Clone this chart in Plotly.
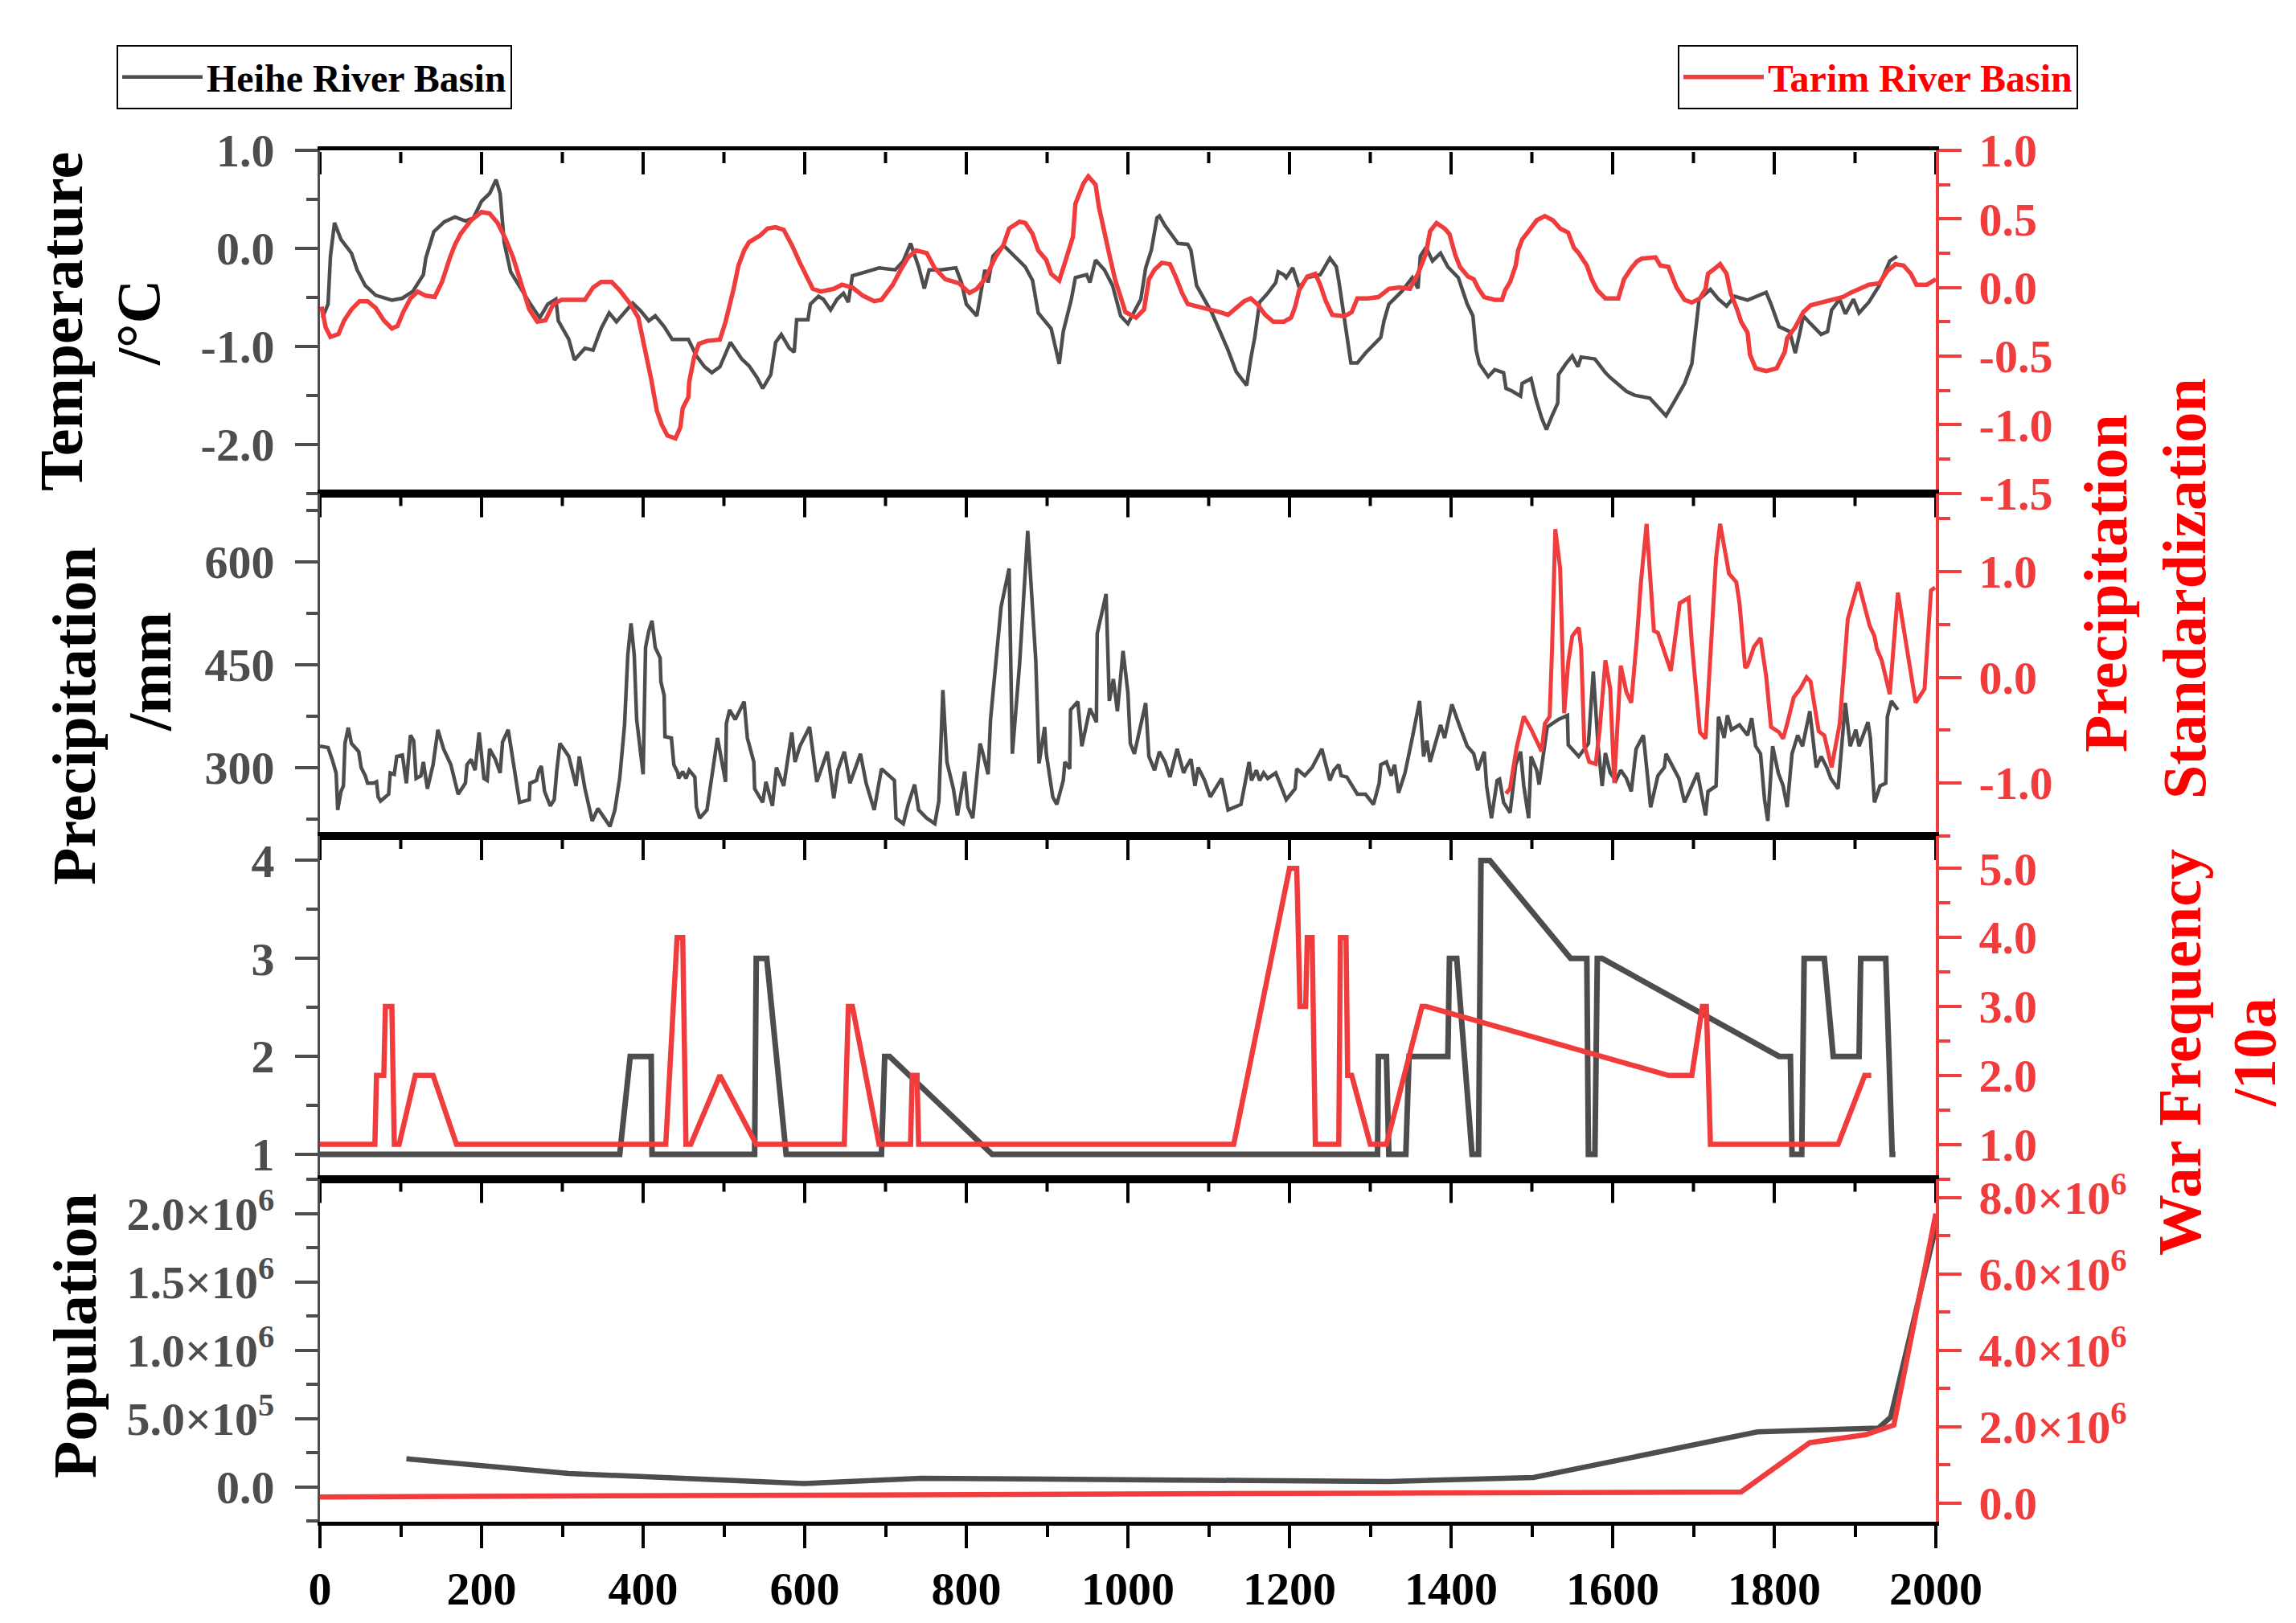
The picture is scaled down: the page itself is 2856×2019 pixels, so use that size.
import plotly.graph_objects as go
from plotly.subplots import make_subplots

GREY = '#4D4D4D'
RED = '#F03C3C'
TITLE_RED = '#FF0000'
FONT = 'Liberation Serif'

# ---- temperature (Heihe, degC, left axis) ----
heihe_temp_year = [
    3, 10, 13, 18, 26, 33, 39, 46, 56, 69,
    89, 102, 115, 128, 131, 141, 154, 167, 180, 190,
    200, 210, 218, 223, 228, 236, 246, 259, 272, 282,
    292, 295, 308, 315, 328, 338, 348, 358, 367, 377,
    387, 397, 407, 415, 426, 436, 456, 466, 476, 485,
    495, 508, 522, 531, 541, 548, 558, 564, 571, 581,
    587, 590, 604, 607, 617, 623, 632, 640, 648, 654,
    659, 676, 692, 712, 722, 731, 741, 748, 754, 768,
    787, 794, 800, 813, 823, 827, 833, 846, 856, 873,
    882, 889, 905, 915, 920, 930, 935, 949, 953, 960,
    971, 981, 991, 1000, 1007, 1016, 1022, 1029, 1036, 1039,
    1046, 1056, 1062, 1074, 1078, 1085, 1095, 1104, 1114, 1124,
    1134, 1147, 1152, 1157, 1163, 1173, 1183, 1186, 1193, 1196,
    1204, 1212, 1222, 1238, 1250, 1258, 1261, 1264, 1271, 1276,
    1284, 1294, 1307, 1313, 1317, 1323, 1339, 1352, 1359, 1362,
    1369, 1377, 1387, 1396, 1409, 1420, 1427, 1431, 1435, 1446,
    1454, 1465, 1468, 1476, 1486, 1488, 1499, 1505, 1512, 1518,
    1525, 1532, 1533, 1542, 1550, 1557, 1561, 1578, 1591, 1597,
    1617, 1627, 1646, 1656, 1666, 1676, 1689, 1698, 1702, 1707,
    1721, 1731, 1741, 1751, 1767, 1780, 1790, 1796, 1806, 1819,
    1826, 1832, 1836, 1845, 1858, 1866, 1871, 1881, 1888, 1898,
    1905, 1917, 1930, 1943, 1952,
]
heihe_temp = [
    -0.71, -0.57, -0.08, 0.26, 0.09, 0.01, -0.05, -0.22, -0.38, -0.48,
    -0.53, -0.51, -0.44, -0.27, -0.10, 0.17, 0.27, 0.32, 0.28, 0.31,
    0.48, 0.56, 0.70, 0.56, 0.06, -0.24, -0.38, -0.55, -0.71, -0.57,
    -0.52, -0.74, -0.93, -1.14, -1.02, -1.04, -0.82, -0.66, -0.75, -0.66,
    -0.56, -0.64, -0.74, -0.69, -0.80, -0.93, -0.93, -1.10, -1.21, -1.27,
    -1.21, -0.96, -1.13, -1.20, -1.32, -1.43, -1.29, -0.96, -0.88, -1.02,
    -1.06, -0.73, -0.73, -0.57, -0.49, -0.52, -0.63, -0.52, -0.46, -0.55,
    -0.28, -0.24, -0.20, -0.22, -0.13, 0.05, -0.19, -0.41, -0.22, -0.22,
    -0.20, -0.35, -0.57, -0.69, -0.22, -0.35, -0.08, 0.03, -0.05, -0.19,
    -0.33, -0.66, -0.82, -1.18, -0.85, -0.52, -0.30, -0.27, -0.35, -0.12,
    -0.22, -0.38, -0.69, -0.77, -0.66, -0.52, -0.20, -0.02, 0.31, 0.33,
    0.23, 0.12, 0.05, 0.04, -0.02, -0.38, -0.52, -0.66, -0.85, -1.04,
    -1.26, -1.40, -1.13, -0.91, -0.55, -0.46, -0.35, -0.24, -0.27, -0.30,
    -0.20, -0.40, -0.30, -0.27, -0.10, -0.19, -0.33, -0.49, -0.85, -1.17,
    -1.17, -1.07, -0.96, -0.91, -0.74, -0.57, -0.44, -0.30, -0.41, -0.08,
    0.01, -0.13, -0.05, -0.19, -0.30, -0.57, -0.69, -1.04, -1.18, -1.31,
    -1.24, -1.27, -1.43, -1.46, -1.51, -1.38, -1.33, -1.54, -1.73, -1.85,
    -1.71, -1.58, -1.29, -1.18, -1.10, -1.21, -1.11, -1.13, -1.27, -1.32,
    -1.46, -1.50, -1.53, -1.62, -1.71, -1.57, -1.38, -1.18, -0.91, -0.52,
    -0.42, -0.52, -0.59, -0.49, -0.53, -0.49, -0.45, -0.57, -0.80, -0.85,
    -1.07, -0.85, -0.69, -0.77, -0.88, -0.85, -0.63, -0.52, -0.67, -0.52,
    -0.66, -0.55, -0.38, -0.13, -0.08,
]

# ---- temperature (Tarim, standardized, right axis) ----
tarim_temp_year = [
    2, 7, 13, 23, 30, 39, 49, 59, 69, 79,
    89, 96, 103, 112, 121, 131, 142, 151, 161, 167,
    174, 187, 200, 210, 220, 230, 239, 246, 253, 259,
    269, 279, 289, 299, 328, 338, 348, 361, 371, 384,
    394, 403, 410, 417, 423, 430, 440, 446, 449, 456,
    457, 463, 469, 479, 495, 502, 508, 512, 518, 525,
    531, 545, 554, 564, 574, 584, 594, 604, 610, 620,
    636, 646, 659, 672, 686, 695, 709, 718, 728, 738,
    751, 761, 774, 791, 804, 813, 823, 836, 846, 853,
    866, 873, 882, 889, 899, 905, 915, 922, 932, 935,
    945, 951, 960, 964, 971, 977, 984, 991, 997, 1010,
    1020, 1026, 1033, 1042, 1052, 1059, 1067, 1074, 1088, 1101,
    1114, 1124, 1134, 1144, 1152, 1160, 1170, 1180, 1193, 1202,
    1207, 1212, 1222, 1232, 1238, 1245, 1253, 1268, 1277, 1284,
    1297, 1310, 1323, 1336, 1349, 1359, 1369, 1374, 1382, 1392,
    1398, 1405, 1411, 1421, 1428, 1434, 1441, 1454, 1463, 1467,
    1473, 1480, 1483, 1488, 1496, 1506, 1516, 1526, 1535, 1545,
    1552, 1558, 1568, 1574, 1581, 1591, 1607, 1614, 1623, 1630,
    1636, 1653, 1659, 1669, 1679, 1689, 1698, 1708, 1715, 1718,
    1727, 1733, 1741, 1746, 1754, 1759, 1767, 1770, 1777, 1790,
    1803, 1813, 1816, 1826, 1836, 1845, 1858, 1871, 1885, 1894,
    1907, 1917, 1930, 1940, 1950, 1960, 1969, 1976, 1989, 2000,
]
tarim_temp = [
    -0.14, -0.29, -0.36, -0.34, -0.24, -0.16, -0.10, -0.10, -0.15, -0.24,
    -0.30, -0.28, -0.18, -0.08, -0.03, -0.06, -0.07, 0.04, 0.22, 0.31,
    0.39, 0.49, 0.55, 0.54, 0.47, 0.35, 0.22, 0.08, -0.04, -0.16,
    -0.25, -0.24, -0.12, -0.09, -0.09, 0.00, 0.04, 0.04, -0.02, -0.12,
    -0.22, -0.47, -0.67, -0.90, -1.00, -1.08, -1.10, -1.02, -0.88, -0.80,
    -0.69, -0.51, -0.41, -0.39, -0.38, -0.25, -0.12, -0.01, 0.16, 0.27,
    0.33, 0.38, 0.43, 0.44, 0.42, 0.31, 0.18, 0.06, -0.01, -0.03,
    -0.01, 0.02, 0.00, -0.06, -0.10, -0.09, 0.02, 0.12, 0.22, 0.27,
    0.25, 0.14, 0.06, 0.03, -0.04, -0.01, 0.06, 0.22, 0.31, 0.43,
    0.48, 0.47, 0.39, 0.27, 0.20, 0.10, 0.05, 0.18, 0.37, 0.61,
    0.76, 0.81, 0.75, 0.59, 0.39, 0.24, 0.06, -0.08, -0.18, -0.22,
    -0.16, 0.06, 0.13, 0.18, 0.17, 0.08, -0.04, -0.12, -0.14, -0.16,
    -0.18, -0.20, -0.15, -0.10, -0.08, -0.12, -0.20, -0.25, -0.25, -0.22,
    -0.14, -0.02, 0.08, 0.10, 0.02, -0.10, -0.20, -0.21, -0.18, -0.08,
    -0.08, -0.07, -0.01, 0.00, -0.01, 0.10, 0.25, 0.41, 0.47, 0.43,
    0.39, 0.24, 0.15, 0.08, 0.06, -0.01, -0.07, -0.09, -0.09, -0.02,
    0.04, 0.16, 0.27, 0.35, 0.41, 0.49, 0.52, 0.49, 0.43, 0.40,
    0.29, 0.25, 0.16, 0.06, -0.02, -0.08, -0.08, 0.06, 0.14, 0.19,
    0.21, 0.22, 0.16, 0.15, 0.00, -0.09, -0.11, -0.08, -0.01, 0.10,
    0.14, 0.17, 0.10, -0.04, -0.16, -0.25, -0.33, -0.49, -0.59, -0.61,
    -0.59, -0.47, -0.37, -0.29, -0.18, -0.13, -0.11, -0.09, -0.07, -0.04,
    -0.01, 0.02, 0.03, 0.12, 0.17, 0.16, 0.10, 0.02, 0.02, 0.06,
]

# ---- precipitation (Heihe, mm, left axis) ----
heihe_prec_year = [
    0, 10, 15, 20, 22, 26, 29, 31, 35, 39,
    48, 51, 56, 59, 66, 70, 72, 75, 85, 87,
    92, 95, 102, 107, 112, 116, 119, 125, 128, 133,
    140, 146, 153, 162, 171, 180, 182, 187, 192, 197,
    203, 207, 210, 217, 223, 226, 233, 239, 247, 259,
    260, 268, 271, 274, 278, 285, 290, 293, 297, 308,
    317, 321, 328, 337, 344, 351, 359, 365, 371, 377,
    381, 385, 389, 392, 400, 403, 407, 411, 415, 421,
    422, 426, 427, 435, 438, 443, 444, 449, 453, 457,
    464, 466, 470, 479, 485, 492, 502, 503, 507, 514,
    525, 529, 537, 538, 548, 552, 560, 565, 574, 584,
    588, 594, 606, 615, 628, 636, 641, 649, 656, 663,
    669, 676, 686, 695, 705, 711, 713, 722, 728, 736,
    741, 751, 761, 766, 771, 776, 784, 789, 798, 802,
    808, 817, 820, 827, 830, 835, 843, 853, 857, 866,
    876, 886, 890, 897, 899, 907, 912, 920, 922, 928,
    929, 938, 943, 953, 961, 962, 973, 977, 982, 987,
    994, 1000, 1003, 1008, 1015, 1022, 1026, 1033, 1039, 1046,
    1052, 1061, 1069, 1072, 1078, 1083, 1087, 1095, 1102, 1116,
    1124, 1140, 1150, 1153, 1159, 1163, 1168, 1173, 1183, 1196,
    1207, 1209, 1219, 1228, 1240, 1250, 1255, 1261, 1264, 1271,
    1284, 1294, 1304, 1311, 1313, 1320, 1326, 1330, 1335, 1343,
    1352, 1361, 1366, 1370, 1374, 1382, 1387, 1392, 1401, 1411,
    1420, 1428, 1433, 1441, 1444, 1450, 1457, 1460, 1465, 1473,
    1480, 1486, 1490, 1496, 1499, 1506, 1509, 1519, 1525, 1533,
    1544, 1545, 1558, 1570, 1576, 1582, 1587, 1591, 1597, 1604,
    1610, 1617, 1623, 1629, 1638, 1647, 1656, 1664, 1666, 1682,
    1689, 1705, 1715, 1718, 1728, 1731, 1738, 1742, 1747, 1757,
    1767, 1772, 1777, 1783, 1788, 1792, 1798, 1805, 1811, 1816,
    1822, 1829, 1835, 1844, 1852, 1858, 1865, 1870, 1879, 1888,
    1894, 1901, 1905, 1916, 1919, 1924, 1931, 1938, 1940, 1945,
    1953,
]
heihe_prec = [
    331, 329, 312, 292, 238, 265, 273, 335, 358, 335,
    323, 300, 288, 277, 277, 279, 257, 251, 261, 292,
    290, 316, 318, 277, 347, 339, 284, 288, 308, 269,
    304, 355, 327, 304, 261, 277, 304, 312, 296, 351,
    284, 281, 327, 312, 292, 337, 355, 312, 249, 253,
    277, 281, 296, 302, 265, 244, 253, 294, 335, 316,
    273, 316, 269, 222, 240, 228, 214, 238, 284, 362,
    464, 510, 464, 370, 290, 475, 499, 514, 475, 460,
    425, 405, 345, 343, 304, 292, 284, 294, 284, 296,
    286, 242, 226, 238, 288, 343, 279, 364, 384, 370,
    396, 343, 308, 269, 249, 279, 244, 300, 273, 351,
    308, 331, 359, 279, 323, 255, 296, 323, 277, 300,
    320, 277, 238, 298, 288, 281, 226, 218, 246, 275,
    238, 226, 218, 251, 413, 308, 269, 230, 294, 242,
    226, 335, 323, 290, 370, 433, 534, 590, 320, 452,
    645, 456, 306, 359, 320, 257, 246, 281, 308, 298,
    384, 396, 331, 386, 366, 495, 553, 397, 429, 382,
    470, 409, 335, 320, 355, 394, 316, 296, 323, 308,
    286, 327, 292, 300, 312, 273, 300, 281, 257, 284,
    238, 246, 308, 281, 296, 281, 292, 284, 292, 253,
    269, 298, 288, 300, 327, 281, 296, 304, 288, 286,
    261, 261, 246, 277, 304, 308, 288, 304, 263, 292,
    343, 397, 316, 339, 308, 343, 362, 343, 392, 359,
    331, 320, 296, 323, 273, 226, 281, 283, 249, 234,
    304, 323, 273, 226, 316, 296, 275, 359, 364, 370,
    376, 333, 316, 335, 440, 331, 273, 321, 292, 281,
    296, 284, 265, 327, 347, 242, 288, 300, 320, 284,
    249, 292, 230, 265, 273, 374, 343, 376, 355, 362,
    347, 372, 331, 320, 253, 222, 331, 292, 273, 242,
    320, 347, 331, 382, 300, 316, 300, 284, 269, 394,
    331, 355, 331, 366, 343, 249, 273, 277, 374, 397,
    384,
]

# ---- precipitation (Tarim, standardized, right axis) ----
tarim_prec_year = [
    1468, 1473, 1481, 1490, 1499, 1512, 1516, 1522, 1525, 1529,
    1535, 1540, 1545, 1550, 1558, 1561, 1565, 1571, 1579, 1584,
    1591, 1597, 1602, 1610, 1617, 1623, 1630, 1635, 1642, 1651,
    1656, 1672, 1683, 1694, 1698, 1708, 1715, 1721, 1728, 1733,
    1741, 1744, 1753, 1757, 1764, 1767, 1775, 1783, 1790, 1796,
    1806, 1811, 1816, 1824, 1832, 1840, 1845, 1855, 1862, 1871,
    1881, 1891, 1904, 1914, 1918, 1924, 1927, 1933, 1943, 1953,
    1963, 1975, 1986, 1994, 1999,
]
tarim_prec = [
    -1.10, -1.05, -0.67, -0.37, -0.49, -0.70, -0.44, -0.37, 0.27, 1.40,
    1.03, -0.34, 0.14, 0.39, 0.47, 0.27, -0.65, -0.80, -0.82, -0.49,
    0.16, -0.11, -1.00, 0.11, -0.14, -0.24, 0.37, 0.90, 1.45, 0.44,
    0.42, 0.06, 0.70, 0.75, 0.32, -0.52, -0.58, 0.27, 1.13, 1.45,
    1.13, 0.98, 0.90, 0.70, 0.09, 0.11, 0.29, 0.37, 0.01, -0.47,
    -0.52, -0.58, -0.44, -0.19, -0.11, 0.00, -0.04, -0.51, -0.55, -0.85,
    -0.44, 0.55, 0.90, 0.62, 0.49, 0.39, 0.27, 0.16, -0.16, 0.80,
    0.32, -0.24, -0.11, 0.82, 0.85,
]

# ---- war frequency per 10 years ----
heihe_war_year = [
    0, 371, 384, 410, 411, 538, 540, 553, 577, 695,
    699, 705, 832, 1309, 1310, 1320, 1323, 1344, 1348, 1396,
    1398, 1407, 1426, 1434, 1437, 1448, 1548, 1568, 1570, 1578,
    1581, 1587, 1806, 1820, 1822, 1834, 1837, 1862, 1873, 1905,
    1907, 1938, 1942, 1946, 1950,
]
heihe_war = [
    1, 1, 2, 2, 1, 1, 3, 3, 1, 1,
    2, 2, 1, 1, 2, 2, 1, 1, 2, 2,
    3, 3, 1, 1, 4, 4, 3, 3, 1, 1,
    3, 3, 2, 2, 1, 1, 3, 3, 2, 2,
    3, 3, 2, 1, 1,
]
tarim_war_year = [
    0, 68, 70, 79, 81, 89, 92, 98, 118, 140,
    169, 428, 442, 449, 453, 459, 495, 540, 649, 654,
    659, 692, 731, 733, 739, 741, 1131, 1200, 1209, 1213,
    1220, 1222, 1228, 1232, 1261, 1263, 1270, 1272, 1277, 1300,
    1320, 1364, 1369, 1669, 1698, 1711, 1716, 1721, 1879, 1912,
    1920,
]
tarim_war = [
    1, 1, 2, 2, 3, 3, 1, 1, 2, 2,
    1, 1, 4, 4, 1, 1, 2, 1, 1, 3,
    3, 1, 1, 2, 2, 1, 1, 5, 5, 3,
    3, 4, 4, 1, 1, 4, 4, 2, 2, 1,
    1, 3, 3, 2, 2, 3, 3, 1, 1, 2,
    2,
]

# ---- population ----
heihe_pop_year = [107, 308, 599, 744, 1323, 1502, 1779, 1929, 1944, 2000]
heihe_pop = [206000, 98000, 24000, 63000, 39000, 69000, 402000, 431000, 510000, 1900000]
tarim_pop_year = [0, 599, 1323, 1759, 1844, 1913, 1948, 2000]
tarim_pop = [160000, 220000, 260000, 290000, 1580000, 1790000, 2040000, 7580000]

# ---- tick labels ----
temp_ticks = [-2, -1, 0, 1]
temp_text = ['-2.0', '-1.0', '0.0', '1.0']
temp_std_ticks = [-1.5, -1.0, -0.5, 0.0, 0.5, 1.0]
temp_std_text = ['-1.5', '-1.0', '-0.5', '0.0', '0.5', '1.0']
prec_std_ticks = [-1, 0, 1]
prec_std_text = ['-1.0', '0.0', '1.0']
pop_left_ticks = [0, 500000, 1000000, 1500000, 2000000]
pop_left_text = ['0.0', '5.0×10<sup>5</sup>', '1.0×10<sup>6</sup>', '1.5×10<sup>6</sup>', '2.0×10<sup>6</sup>']
pop_right_ticks = [0, 2000000, 4000000, 6000000, 8000000]
pop_right_text = ['0.0', '2.0×10<sup>6</sup>', '4.0×10<sup>6</sup>', '6.0×10<sup>6</sup>', '8.0×10<sup>6</sup>']

# ---- figure ----
W, H = 2856, 2019
L, R, T, B = 390, 2400, 179, 1885   # plot area in px


def px_x(p):
    return (p - L) / (R - L)


def px_y(p):
    return (B - p) / (B - T)


fig = make_subplots(rows=4, cols=1, shared_xaxes=True, vertical_spacing=0,
                    specs=[[{"secondary_y": True}]] * 4)

fig.add_trace(go.Scatter(x=heihe_temp_year, y=heihe_temp, mode='lines', name='<b>Heihe River Basin</b>',
                         line=dict(color=GREY, width=4.5), legend='legend'), row=1, col=1, secondary_y=False)
fig.add_trace(go.Scatter(x=tarim_temp_year, y=tarim_temp, mode='lines', name='<b>Tarim River Basin</b>',
                         line=dict(color=RED, width=5.5), legend='legend2'), row=1, col=1, secondary_y=True)

fig.add_trace(go.Scatter(x=heihe_prec_year, y=heihe_prec, mode='lines', showlegend=False,
                         line=dict(color=GREY, width=4.5)), row=2, col=1, secondary_y=False)
fig.add_trace(go.Scatter(x=tarim_prec_year, y=tarim_prec, mode='lines', showlegend=False,
                         line=dict(color=RED, width=5)), row=2, col=1, secondary_y=True)

fig.add_trace(go.Scatter(x=heihe_war_year, y=heihe_war, mode='lines', showlegend=False,
                         line=dict(color=GREY, width=7)), row=3, col=1, secondary_y=False)
fig.add_trace(go.Scatter(x=tarim_war_year, y=tarim_war, mode='lines', showlegend=False,
                         line=dict(color=RED, width=6.5)), row=3, col=1, secondary_y=True)

fig.add_trace(go.Scatter(x=heihe_pop_year, y=heihe_pop, mode='lines', showlegend=False,
                         line=dict(color=GREY, width=6.5)), row=4, col=1, secondary_y=False)
fig.add_trace(go.Scatter(x=tarim_pop_year, y=tarim_pop, mode='lines', showlegend=False,
                         line=dict(color=RED, width=6.5)), row=4, col=1, secondary_y=True)

tickfont_black = dict(family=FONT, size=58, color='black', weight='bold')
tickfont_grey = dict(family=FONT, size=58, color=GREY, weight='bold')
tickfont_red = dict(family=FONT, size=58, color=RED, weight='bold')

# x axes: frame lines for every panel, year ticks + labels along the bottom
fig.update_xaxes(domain=[0, 1], range=[0, 2000], tick0=0, dtick=200, showline=True, linewidth=5,
                 linecolor='black', mirror=True, showgrid=False, zeroline=False, automargin=False,
                 tickfont=tickfont_black, ticklabelstandoff=0)
fig.update_xaxes(row=4, col=1, ticks='outside', ticklen=28, tickwidth=4, tickcolor='black',
                 minor=dict(dtick=100, tick0=0, ticks='outside', ticklen=14, tickwidth=4, tickcolor='black'))

# the upper frame edge of every panel carries inward-pointing year ticks
panel_tops = [1.0, 0.75, 0.5, 0.25]
for top in panel_tops:
    for yr in range(0, 2001, 100):
        tick_len = 28 if yr % 200 == 0 else 14
        fig.add_shape(type='line', xref='x', yref='paper', x0=yr, x1=yr, ysizemode='pixel', yanchor=top,
                      y0=-2, y1=-2 - tick_len, line=dict(color='black', width=4), layer='above')

left_common = dict(showline=True, linecolor=GREY, linewidth=3, ticks='outside', ticklen=28, tickwidth=4,
                   tickcolor=GREY, showgrid=False, zeroline=False, tickfont=tickfont_grey,
                   ticklabelstandoff=14, automargin=False)
right_common = dict(showline=True, linecolor=RED, linewidth=4, ticks='outside', ticklen=28, tickwidth=4,
                    tickcolor=RED, showgrid=False, zeroline=False, tickfont=tickfont_red,
                    ticklabelstandoff=10, automargin=False)

# panel 1: temperature
fig.update_yaxes(row=1, col=1, secondary_y=False, range=[-2.5, 1.0], tickmode='array',
                 tickvals=temp_ticks, ticktext=temp_text,
                 minor=dict(dtick=0.5, tick0=0, ticks='outside', ticklen=14, tickwidth=4, tickcolor=GREY),
                 **left_common)
fig.update_yaxes(row=1, col=1, secondary_y=True, range=[-1.5, 1.0], tickmode='array',
                 tickvals=temp_std_ticks, ticktext=temp_std_text,
                 minor=dict(dtick=0.25, tick0=0, ticks='outside', ticklen=14, tickwidth=4, tickcolor=RED),
                 **right_common)
# panel 2: precipitation
fig.update_yaxes(row=2, col=1, secondary_y=False, range=[200, 700], tick0=0, dtick=150,
                 minor=dict(dtick=75, tick0=0, ticks='outside', ticklen=14, tickwidth=4, tickcolor=GREY),
                 **left_common)
fig.update_yaxes(row=2, col=1, secondary_y=True, range=[-1.5, 1.74], tickmode='array',
                 tickvals=prec_std_ticks, ticktext=prec_std_text,
                 minor=dict(dtick=0.5, tick0=0, ticks='outside', ticklen=14, tickwidth=4, tickcolor=RED),
                 **right_common)
# panel 3: war frequency
fig.update_yaxes(row=3, col=1, secondary_y=False, range=[0.75, 4.25], tick0=0, dtick=1, tickformat='d',
                 minor=dict(dtick=0.5, tick0=0, ticks='outside', ticklen=14, tickwidth=4, tickcolor=GREY),
                 **left_common)
fig.update_yaxes(row=3, col=1, secondary_y=True, range=[0.5, 5.47], tick0=0, dtick=1, tickformat='.1f',
                 minor=dict(dtick=0.5, tick0=0, ticks='outside', ticklen=14, tickwidth=4, tickcolor=RED),
                 **right_common)
# panel 4: population
fig.update_yaxes(row=4, col=1, secondary_y=False, range=[-255000, 2255000], tickmode='array',
                 tickvals=pop_left_ticks, ticktext=pop_left_text,
                 minor=dict(dtick=250000, tick0=0, ticks='outside', ticklen=14, tickwidth=4, tickcolor=GREY),
                 **left_common)
fig.update_yaxes(row=4, col=1, secondary_y=True, range=[-490000, 8490000], tickmode='array',
                 tickvals=pop_right_ticks, ticktext=pop_right_text,
                 minor=dict(dtick=1000000, tick0=0, ticks='outside', ticklen=14, tickwidth=4, tickcolor=RED),
                 **right_common)

# axis titles
left_titles = [('Temperature', 68, 392), ('/°C', 164, 394), ('Precipitation', 84, 883),
               ('/mm', 178, 828), ('Population', 85, 1654)]
right_titles = [('Precipitation', 2611, 718), ('Standardization', 2709, 724),
                ('War Frequency', 2703, 1301), ('/10a', 2796, 1301)]
for text, x, y in left_titles:
    fig.add_annotation(text=text, xref='paper', yref='paper', x=px_x(x), y=px_y(y), showarrow=False,
                       textangle=-90, xanchor='center', yanchor='middle',
                       font=dict(family=FONT, size=76, color='black', weight='bold'))
for text, x, y in right_titles:
    fig.add_annotation(text=text, xref='paper', yref='paper', x=px_x(x), y=px_y(y), showarrow=False,
                       textangle=-90, xanchor='center', yanchor='middle',
                       font=dict(family=FONT, size=76, color=TITLE_RED, weight='bold'))

fig.update_layout(
    width=W, height=H,
    margin=dict(l=L, r=W - R, t=T, b=H - B, autoexpand=False),
    paper_bgcolor='white', plot_bgcolor='rgba(0,0,0,0)',
    legend=dict(xref='container', yref='container', x=137 / W, y=1 - 48 / H, xanchor='left', yanchor='top',
                bgcolor='white', bordercolor='black', borderwidth=2, itemwidth=100,
                font=dict(family=FONT, size=48, color='black')),
    legend2=dict(xref='container', yref='container', x=2079 / W, y=1 - 48 / H, xanchor='left', yanchor='top',
                 bgcolor='white', bordercolor='black', borderwidth=2, itemwidth=100,
                 font=dict(family=FONT, size=48, color=TITLE_RED)),
)

fig.write_html("out.html")
